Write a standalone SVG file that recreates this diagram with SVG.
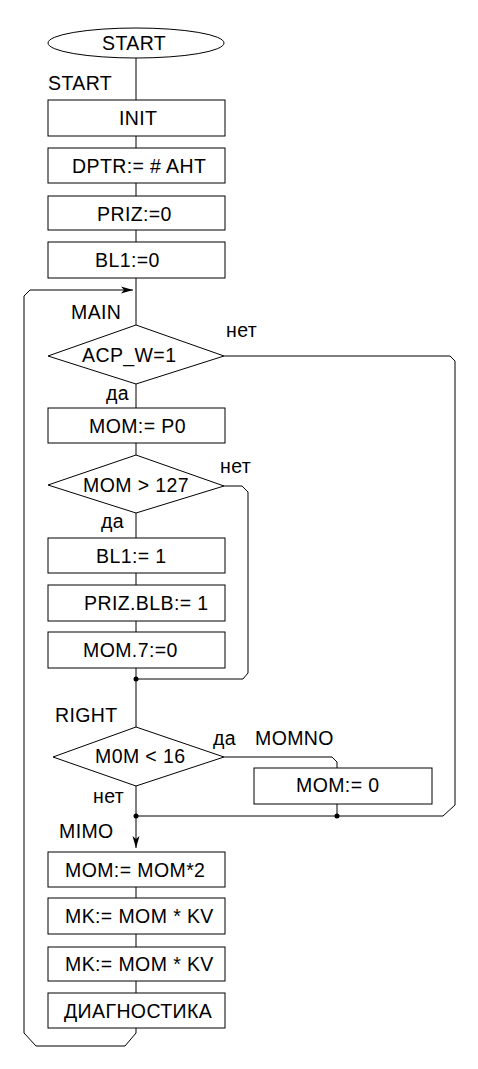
<svg xmlns="http://www.w3.org/2000/svg" width="478" height="1069" viewBox="0 0 478 1069">
<defs>
<style>
.n{fill:#fff;stroke:#000;stroke-width:1}
.c{fill:none;stroke:#000;stroke-width:1}
text{font-family:"Liberation Sans",Arial,sans-serif;font-size:19.5px;fill:#000;letter-spacing:0.4px}
</style>
<marker id="ah" markerWidth="12" markerHeight="8" refX="12" refY="4" orient="auto" markerUnits="userSpaceOnUse">
<path d="M0,0.5 L12,4 L0,7.5 L3,4 Z" fill="#000"/>
</marker>
</defs>
<rect width="478" height="1069" fill="#fff"/>
<g id="connectors">
<path class="c" d="M136,58 V100 M136,136 V148 M136,183 V196 M136,230 V242 M136,278 V325"/>
<path class="c" d="M136,384 V408 M136,443 V455 M136,513 V538 M136,573 V585 M136,621 V632 M136,668 V727"/>
<path class="c" d="M224,486 H242 L248,492 V673 L243,679 H136"/>
<path class="c" d="M224,356 H450 L455,361 V805 L443,816 H136"/>
<path class="c" d="M224,757 H332 L337,762 V768 M337,804 V816"/>
<path class="c" d="M136,786 V848" marker-end="url(#ah)"/>
<path class="c" d="M136,887 V898 M136,934 V947 M136,981 V993"/>
<path class="c" d="M136,1028 V1033 L125,1046 H36 L24,1033 V296 L30,290 H133" marker-end="url(#ah)"/>
<circle cx="136" cy="679" r="2.5" fill="#000"/>
<circle cx="136" cy="816" r="2.5" fill="#000"/>
<circle cx="337" cy="816" r="2.5" fill="#000"/>
</g>
<g id="start"><ellipse class="n" cx="136" cy="43" rx="88" ry="15"/><text x="102" y="50">START</text></g>
<g id="lbl-start"><text x="48" y="90">START</text></g>
<g id="init"><rect class="n" x="48" y="100" width="177" height="36"/><text x="119" y="125">INIT</text></g>
<g id="dptr"><rect class="n" x="48" y="148" width="177" height="35"/><text x="72" y="173">DPTR:= # AHT</text></g>
<g id="priz"><rect class="n" x="48" y="196" width="177" height="34"/><text x="97" y="221">PRIZ:=0</text></g>
<g id="bl1"><rect class="n" x="48" y="242" width="177" height="36"/><text x="95" y="267">BL1:=0</text></g>
<g id="lbl-main"><text x="71" y="319">MAIN</text></g>
<g id="acp"><polygon class="n" points="136,325 224,356 136,384 48,356"/><text x="82" y="362">ACP_W=1</text>
<text x="226" y="337">нет</text><text x="106" y="400">да</text></g>
<g id="mom-p0"><rect class="n" x="48" y="408" width="177" height="35"/><text x="89" y="433">MOM:= P0</text></g>
<g id="mom127"><polygon class="n" points="136,455 224,486 136,513 48,485"/><text x="83" y="492">MOM &gt; 127</text>
<text x="220" y="473">нет</text><text x="101" y="528">да</text></g>
<g id="bl1-1"><rect class="n" x="48" y="538" width="177" height="35"/><text x="96" y="563">BL1:= 1</text></g>
<g id="priz-blb"><rect class="n" x="48" y="585" width="177" height="36"/><text x="84" y="610">PRIZ.BLB:= 1</text></g>
<g id="mom7"><rect class="n" x="48" y="632" width="177" height="36"/><text x="83" y="657">MOM.7:=0</text></g>
<g id="lbl-right"><text x="55" y="722">RIGHT</text></g>
<g id="m0m16"><polygon class="n" points="136,727 224,757 136,786 53,757"/><text x="95" y="763">M0M &lt; 16</text>
<text x="213" y="745">да</text><text x="93" y="803">нет</text></g>
<g id="lbl-momno"><text x="255" y="745">MOMNO</text></g>
<g id="mom0"><rect class="n" x="254" y="768" width="178" height="36"/><text x="296" y="792">MOM:= 0</text></g>
<g id="lbl-mimo"><text x="59" y="838">MIMO</text></g>
<g id="mom2"><rect class="n" x="48" y="852" width="177" height="35"/><text x="65" y="877">MOM:= MOM*2</text></g>
<g id="mk1"><rect class="n" x="48" y="898" width="177" height="36"/><text x="65" y="923">MK:= MOM * KV</text></g>
<g id="mk2"><rect class="n" x="48" y="947" width="177" height="34"/><text x="65" y="971">MK:= MOM * KV</text></g>
<g id="diag"><rect class="n" x="48" y="993" width="177" height="35"/><text x="64" y="1018">ДИАГНОСТИКА</text></g>
</svg>
